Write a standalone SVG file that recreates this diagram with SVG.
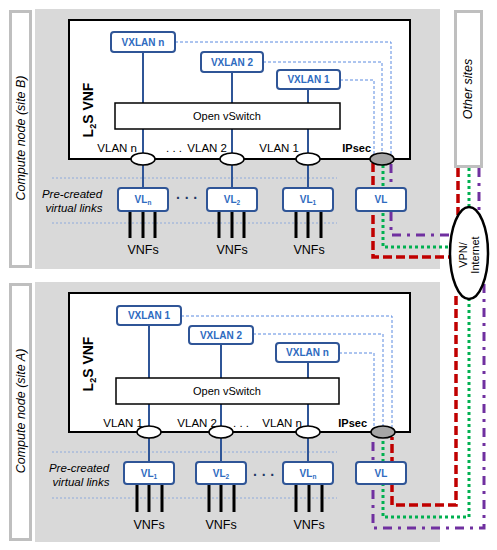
<svg xmlns="http://www.w3.org/2000/svg" width="497" height="550" viewBox="0 0 497 550">
<defs>
<style>
.bg{fill:#d9d9d9}
.lbl{fill:#fff;stroke:#bfbfbf;stroke-width:3}
.vnf{fill:#fff;stroke:#000;stroke-width:2}
.ovs{fill:#fff;stroke:#000;stroke-width:1.5}
.bx{fill:#fff;stroke:#2f5597;stroke-width:2}
.bl{stroke:#2f5597;stroke-width:2;fill:none}
.bd{stroke:#5b8ae0;stroke-width:1;stroke-dasharray:3 2;fill:none}
.hd{stroke:#8eaadb;stroke-width:1;stroke-dasharray:2 2;fill:none}
.vl{fill:#fff;stroke:#000;stroke-width:1.5}
.ip{fill:#a6a6a6;stroke:#000;stroke-width:1.5}
.k{stroke:#000;stroke-width:3}
.red{stroke:#c00000;stroke-width:3.5;stroke-dasharray:9 4;fill:none}
.grn{stroke:#00b050;stroke-width:3;stroke-dasharray:3 3;fill:none}
.pur{stroke:#7030a0;stroke-width:3;stroke-dasharray:9 6 3 6;fill:none}
text{font-family:"Liberation Sans",Arial,sans-serif}
.t{font-size:11.5px;fill:#000}
.tb{font-size:11px;font-weight:bold;fill:#000}
.bt{font-size:10px;font-weight:bold;fill:#2e6bbf;text-anchor:middle}
.ct{font-size:11px;text-anchor:middle}
.it{font-size:11.5px;font-style:italic;text-anchor:middle}
.side{font-size:12.5px;font-style:italic;text-anchor:middle}
.l2{font-size:14px;font-weight:bold;text-anchor:middle}
.vn{font-size:12.5px;text-anchor:middle}
.dots{font-size:14px;font-weight:bold;fill:#1f3864;text-anchor:middle}
</style>
</defs>

<!-- Site B -->
<g id="siteB">
<rect class="bg" x="35" y="9" width="405" height="260"/>
<g id="labelB"><rect class="lbl" x="10.5" y="11.5" width="20" height="255"/>
<text class="side" transform="translate(25,138) rotate(-90)">Compute node (site B)</text></g>
<rect class="vnf" x="69" y="20" width="341" height="139"/>
<text class="l2" transform="translate(93,110) rotate(-90)">L<tspan font-size="9" dy="3">2</tspan><tspan dy="-3">S VNF</tspan></text>
</g>

<!-- Site A -->
<g id="siteA">
<rect class="bg" x="35" y="282" width="405" height="260"/>
<g id="labelA"><rect class="lbl" x="10.5" y="284.5" width="20" height="255"/>
<text class="side" transform="translate(25,411) rotate(-90)">Compute node (site A)</text></g>
<rect class="vnf" x="69" y="293" width="341" height="139"/>
<text class="l2" transform="translate(93,364) rotate(-90)">L<tspan font-size="9" dy="3">2</tspan><tspan dy="-3">S VNF</tspan></text>
</g>

<g id="otherSites"><rect class="lbl" x="455.5" y="11.5" width="26" height="155"/>
<text class="side" transform="translate(472,89) rotate(-90)">Other sites</text></g>

<g id="connectors">
<path class="hd" d="M52,178H337M52,223H337M52,452H337M52,498H337"/>
<path class="bd" d="M175,42H391V154M263,62H382V153M340,80H374V154"/>
<path class="bd" d="M181,316H392V427M253,334H383V426M339,353H374V427"/>
<path class="red" d="M373,163V257H451"/>
<path class="grn" d="M383,165V247H451"/>
<path class="pur" d="M391,164V235H450"/>
<path class="red" d="M458,168V215"/>
<path class="grn" d="M469,168V210"/>
<path class="pur" d="M479,168V212"/>
<path class="red" d="M456,296V505H392V437"/>
<path class="grn" d="M469,298V517H383V438"/>
<path class="pur" d="M484,284V528H373V437"/>
<path class="bl" d="M143,52V188M232,72V188M308,89V188"/>
<path class="bl" d="M149,325V462M221,344V462M308,362V462"/>
<path class="k" d="M130,211V238M143,211V238M155,211V238M219,211V238M232,211V238M244,211V238M296,211V238M308,211V238M321,211V238"/>
<path class="k" d="M137,484V512M149,484V512M162,484V512M209,484V512M221,484V512M234,484V512M296,484V512M309,484V512M322,484V512"/>
</g>

<g id="vxlanB">
<g id="vxlanBn"><rect class="bx" x="111" y="32" width="64" height="20" rx="3"/><text class="bt" x="143" y="45.5">VXLAN n</text></g>
<g id="vxlanB2"><rect class="bx" x="201" y="52" width="62" height="20" rx="3"/><text class="bt" x="232" y="65.5">VXLAN 2</text></g>
<g id="vxlanB1"><rect class="bx" x="277" y="70" width="63" height="19" rx="3"/><text class="bt" x="308.5" y="83">VXLAN 1</text></g>
</g>
<g id="ovsB"><rect class="ovs" x="115" y="103" width="225" height="26"/><text class="ct" x="227" y="120">Open vSwitch</text></g>
<g id="portsB">
<ellipse class="vl" cx="143" cy="159" rx="12" ry="6"/>
<ellipse class="vl" cx="232" cy="159" rx="12" ry="6"/>
<ellipse class="vl" cx="308" cy="159" rx="12" ry="6"/>
<ellipse class="ip" cx="382" cy="159" rx="12" ry="6"/>
<text class="t" x="137" y="152" text-anchor="end">VLAN n</text>
<text class="t" x="174" y="152" text-anchor="middle">. . .</text>
<text class="t" x="227" y="152" text-anchor="end">VLAN 2</text>
<text class="t" x="299" y="152" text-anchor="end">VLAN 1</text>
<text class="tb" x="371" y="152" text-anchor="end">IPsec</text>
</g>
<g id="vlB">
<text class="it" x="72" y="198">Pre-created</text>
<text class="it" x="74" y="212">virtual links</text>
<g id="vlBn"><rect class="bx" x="118" y="188" width="50" height="23" rx="3"/><text class="bt" x="143" y="203">VL<tspan font-size="6.5" dy="2">n</tspan></text></g>
<text class="dots" x="187" y="203">· · ·</text>
<g id="vlB2"><rect class="bx" x="207" y="188" width="50" height="23" rx="3"/><text class="bt" x="232" y="203">VL<tspan font-size="6.5" dy="2">2</tspan></text></g>
<g id="vlB1"><rect class="bx" x="283" y="188" width="50" height="23" rx="3"/><text class="bt" x="308" y="203">VL<tspan font-size="6.5" dy="2">1</tspan></text></g>
<g id="vlBip"><rect class="bx" x="356" y="188" width="50" height="23" rx="3"/><text class="bt" x="381" y="203">VL</text></g>
<text class="vn" x="143" y="254">VNFs</text>
<text class="vn" x="232" y="254">VNFs</text>
<text class="vn" x="309" y="254">VNFs</text>
</g>

<g id="vxlanA">
<g id="vxlanA1"><rect class="bx" x="117" y="306" width="64" height="19" rx="3"/><text class="bt" x="149" y="319">VXLAN 1</text></g>
<g id="vxlanA2"><rect class="bx" x="189" y="326" width="64" height="18" rx="3"/><text class="bt" x="221" y="338.5">VXLAN 2</text></g>
<g id="vxlanAn"><rect class="bx" x="276" y="343" width="63" height="19" rx="3"/><text class="bt" x="307.5" y="356">VXLAN n</text></g>
</g>
<g id="ovsA"><rect class="ovs" x="116" y="378" width="223" height="26"/><text class="ct" x="227" y="395">Open vSwitch</text></g>
<g id="portsA">
<ellipse class="vl" cx="149" cy="432" rx="12" ry="6"/>
<ellipse class="vl" cx="221" cy="432" rx="12" ry="6"/>
<ellipse class="vl" cx="308" cy="432" rx="12" ry="6"/>
<ellipse class="ip" cx="383" cy="432" rx="12" ry="6"/>
<text class="t" x="143" y="427" text-anchor="end">VLAN 1</text>
<text class="t" x="217" y="427" text-anchor="end">VLAN 2</text>
<text class="t" x="241" y="427" text-anchor="middle">. . .</text>
<text class="t" x="302" y="427" text-anchor="end">VLAN n</text>
<text class="tb" x="367" y="427" text-anchor="end">IPsec</text>
</g>
<g id="vlA">
<text class="it" x="79" y="472">Pre-created</text>
<text class="it" x="81" y="486">virtual links</text>
<g id="vlA1"><rect class="bx" x="124" y="462" width="50" height="22" rx="3"/><text class="bt" x="149" y="476.5">VL<tspan font-size="6.5" dy="2">1</tspan></text></g>
<g id="vlA2"><rect class="bx" x="196" y="462" width="50" height="22" rx="3"/><text class="bt" x="221" y="476.5">VL<tspan font-size="6.5" dy="2">2</tspan></text></g>
<text class="dots" x="264" y="480">· · ·</text>
<g id="vlAn"><rect class="bx" x="283" y="462" width="50" height="22" rx="3"/><text class="bt" x="308" y="476.5">VL<tspan font-size="6.5" dy="2">n</tspan></text></g>
<g id="vlAip"><rect class="bx" x="356" y="462" width="50" height="22" rx="3"/><text class="bt" x="381" y="476.5">VL</text></g>
<text class="vn" x="149" y="529">VNFs</text>
<text class="vn" x="221" y="529">VNFs</text>
<text class="vn" x="309" y="529">VNFs</text>
</g>

<g id="vpn">
<ellipse cx="469" cy="253" rx="19" ry="46" fill="#fff" stroke="#000" stroke-width="2.5"/>
<text font-size="11" text-anchor="middle" transform="translate(467,255) rotate(-90)"><tspan x="0" y="0">VPN/</tspan><tspan x="0" y="12">Internet</tspan></text>
</g>
</svg>
